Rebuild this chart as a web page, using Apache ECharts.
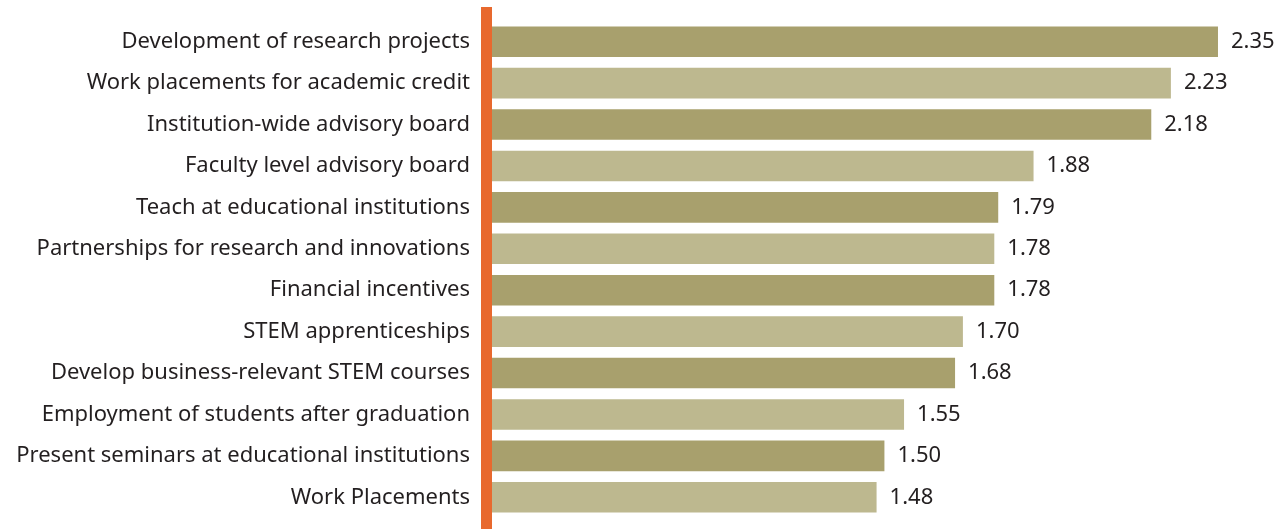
<!DOCTYPE html>
<html>
<head>
<meta charset="utf-8">
<script src="https://cdn.jsdelivr.net/npm/echarts@6/dist/echarts.min.js"></script>
<style>
  html, body { margin: 0; padding: 0; background: #ffffff; }
  #chart { width: 1281px; height: 529px; }
</style>
</head>
<body>
<div id="chart"></div>
<script>
// Engagement activities, ranked by mean score
const categories = [
  'Development of research projects',
  'Work placements for academic credit',
  'Institution-wide advisory board',
  'Faculty level advisory board',
  'Teach at educational institutions',
  'Partnerships for research and innovations',
  'Financial incentives',
  'STEM apprenticeships',
  'Develop business-relevant STEM courses',
  'Employment of students after graduation',
  'Present seminars at educational institutions',
  'Work Placements'
];
const scores = [2.35, 2.23, 2.18, 1.88, 1.79, 1.78, 1.78, 1.70, 1.68, 1.55, 1.50, 1.48];

const darkBar = '#A8A06D';
const lightBar = '#BDB88F';
const accent = '#E8692E';
const textColor = '#231F20';
const fontFamily = '"Noto Sans", "Open Sans", sans-serif';

const chart = echarts.init(document.getElementById('chart'), null, { renderer: 'canvas' });

chart.setOption({
  animation: false,
  backgroundColor: '#ffffff',
  grid: { left: 492, right: 12, top: 21, bottom: 11, containLabel: false },
  xAxis: {
    type: 'value',
    min: 0.5,
    max: 2.48,
    show: false
  },
  yAxis: {
    type: 'category',
    data: categories,
    inverse: true,
    axisLine: { show: false },
    axisTick: { show: false },
    axisLabel: {
      margin: 22,
      color: textColor,
      fontFamily: fontFamily,
      fontSize: 22,
      padding: [0, 0, 5, 0]
    }
  },
  series: [{
    type: 'bar',
    data: scores.map((v, i) => ({
      value: v,
      itemStyle: { color: i % 2 === 0 ? darkBar : lightBar }
    })),
    barCategoryGap: '26%',
    label: {
      show: true,
      position: 'right',
      distance: 13,
      formatter: p => p.value.toFixed(2),
      color: textColor,
      fontFamily: fontFamily,
      fontSize: 22
    }
  }],
  graphic: [{
    type: 'rect',
    left: 481,
    top: 7,
    shape: { width: 11, height: 522 },
    style: { fill: accent },
    z: 10
  }]
});
</script>
</body>
</html>
